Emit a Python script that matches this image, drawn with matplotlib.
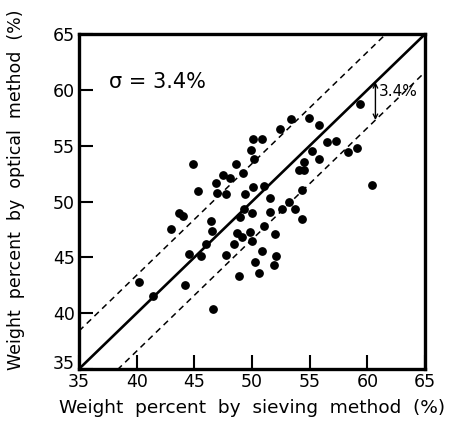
import matplotlib
matplotlib.use("Agg")
import matplotlib.pyplot as plt
import matplotlib.transforms as mtransforms
import numpy as np

# weight percent readings (sieving vs optical)
sieving = [59.4, 53.4, 54.9, 55.8, 52.4, 50.1, 50.9, 49.9, 56.5, 57.3,
           58.3, 59.1, 55.2, 55.8, 54.5, 50.2, 44.9, 48.6, 47.5, 48.1,
           49.2, 46.9, 54.1, 54.5, 45.3, 47.0, 47.7, 49.4, 50.1, 51.0,
           51.6, 54.3, 53.2, 52.6, 53.7, 54.3, 43.0, 43.7, 44.0, 46.4,
           49.3, 49.0, 50.0, 51.6, 46.5, 48.7, 49.1, 49.8, 50.0, 51.0,
           52.0, 46.0, 48.4, 44.5, 45.6, 47.7, 50.9, 52.1, 50.3, 51.9,
           50.6, 48.9, 40.2, 44.2, 41.4, 46.6, 60.4]
optical = [58.7, 57.4, 57.5, 56.9, 56.5, 55.6, 55.6, 54.6, 55.3, 55.4,
           54.4, 54.8, 54.5, 53.8, 53.5, 53.8, 53.4, 53.4, 52.4, 52.1,
           52.6, 51.7, 52.8, 52.8, 50.9, 50.8, 50.7, 50.7, 51.3, 51.4,
           50.3, 51.0, 50.0, 49.3, 49.3, 48.4, 47.5, 49.0, 48.7, 48.3,
           49.3, 48.6, 49.0, 49.1, 47.4, 47.2, 46.8, 47.3, 46.5, 47.8,
           47.1, 46.2, 46.2, 45.3, 45.1, 45.2, 45.6, 45.1, 44.6, 44.3,
           43.6, 43.3, 42.8, 42.5, 41.5, 40.4, 51.5]
sigma = 3.4
ticks = [35, 40, 45, 50, 55, 60, 65]

plt.rcParams['font.family'] = ['DejaVu Sans']
fig = plt.figure(figsize=(4.65, 4.32), dpi=100)
ax = fig.add_axes([0.170, 0.146, 0.744, 0.775])

lim = np.array([35, 65])
ax.plot(lim, lim, color='black', lw=1.9)
ax.plot(lim, lim + sigma, color='black', lw=1.1, ls=(0, (4, 3)))
ax.plot(lim, lim - sigma, color='black', lw=1.1, ls=(0, (4, 3)))

ax.scatter(sieving, optical, s=28, color='black', zorder=3)

# arrow showing the band width
ax.annotate('', xy=(60.7, 60.7 - sigma), xytext=(60.7, 60.7),
            arrowprops=dict(arrowstyle='<->', color='black', lw=1.0,
                            shrinkA=0, shrinkB=0, mutation_scale=8))
ax.text(61.0, 59.9, '3.4%', fontsize=11, va='center', ha='left')
ax.text(37.6, 60.7, 'σ = 3.4%', fontsize=15, va='center', ha='left')

ax.set_xlim(35, 65)
ax.set_ylim(35, 65)
ax.set_xticks(ticks)
ax.set_yticks(ticks)
ax.tick_params(direction='in', length=10, width=1.5, labelsize=12.5, pad=3,
               top=False, right=False)
for sp in ax.spines.values():
    sp.set_linewidth(2.4)

# lift the bottom y label a little off the corner
lab = ax.get_yticklabels()[0]
lab.set_transform(lab.get_transform() + mtransforms.ScaledTranslation(0, 5 / 72, fig.dpi_scale_trans))

ax.set_xlabel('Weight  percent  by  sieving  method  (%)', fontsize=13.3, labelpad=6)
ax.set_ylabel('Weight  percent  by  optical  method  (%)', fontsize=12.5)
ax.yaxis.set_label_coords(-0.155, 0.535)

fig.savefig('out.png', dpi=100)
